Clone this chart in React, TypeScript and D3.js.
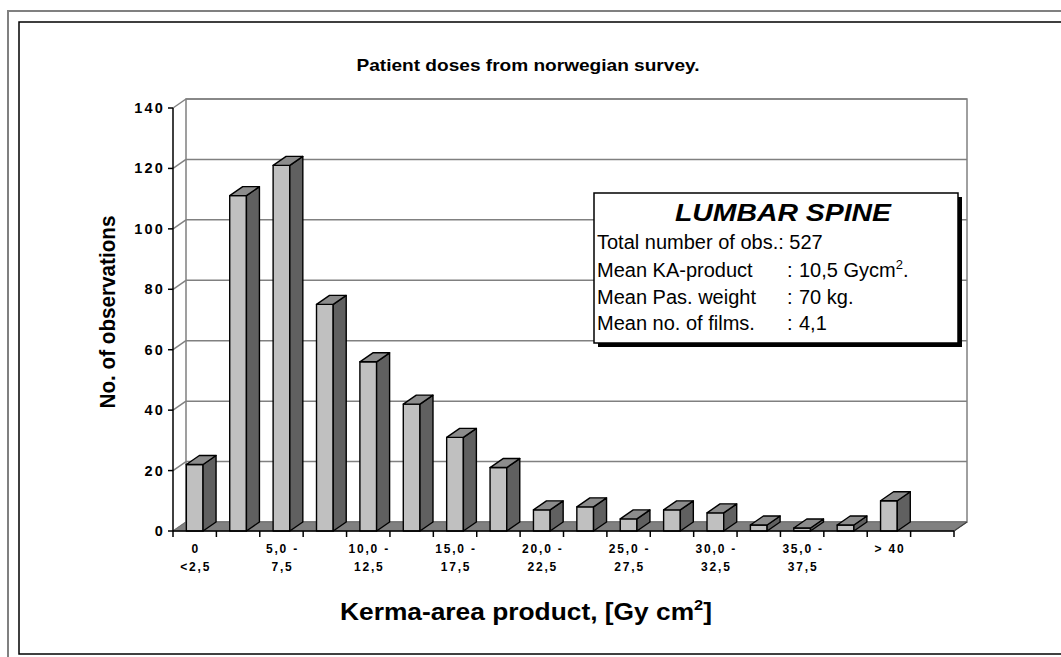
import React from "react";
import * as d3 from "d3";

const categories = ["0-2,5", "2,5-5,0", "5,0-7,5", "7,5-10,0", "10,0-12,5", "12,5-15,0", "15,0-17,5", "17,5-20,0", "20,0-22,5", "22,5-25,0", "25,0-27,5", "27,5-30,0", "30,0-32,5", "32,5-35,0", "35,0-37,5", "37,5-40,0", "> 40", "extra"];
const observations: (number | null)[] = [22, 111, 121, 75, 56, 42, 31, 21, 7, 8, 4, 7, 6, 2, 1, 2, 10, null];
const tickLabelLine1 = ["0", "", "5,0 -", "", "10,0 -", "", "15,0 -", "", "20,0 -", "", "25,0 -", "", "30,0 -", "", "35,0 -", "", "> 40", ""];
const tickLabelLine2 = ["<2,5", "", "7,5", "", "12,5", "", "17,5", "", "22,5", "", "27,5", "", "32,5", "", "37,5", "", "", ""];
const yTicks = [0, 20, 40, 60, 80, 100, 120, 140];

const legendTitle = "LUMBAR SPINE";
const legendLabels = ["Mean KA-product", "Mean Pas. weight", "Mean no. of films."];
const legendValues = ["10,5 Gycm", "70 kg.", "4,1"];

const FONT = "'Liberation Sans', Arial, Helvetica, sans-serif";

export default function App() {
  const DX = 13;
  const DY = -9;
  const x = d3.scaleBand<number>().domain(categories.map((_, i) => i)).range([173, 954]).padding(0);
  const y = d3.scaleLinear().domain([0, 140]).range([531, 108]);
  const step = x.step();
  const bw = step * 0.385;
  const y0 = y(0);

  const bars = observations.map((v, i) => {
    if (v === null) return null;
    const cx = (x(i) as number) + step / 2;
    const x0 = cx - bw / 2;
    const x1 = cx + bw / 2;
    const yt = y(v);
    return (
      <g key={i} stroke="#000" strokeWidth={1.4} strokeLinejoin="round">
        <rect x={x0} y={yt} width={bw} height={y0 - yt} fill="#c0c0c0" />
        <polygon
          points={`${x1},${y0} ${x1 + DX},${y0 + DY} ${x1 + DX},${yt + DY} ${x1},${yt}`}
          fill="#606060"
        />
        <polygon
          points={`${x0},${yt} ${x0 + DX},${yt + DY} ${x1 + DX},${yt + DY} ${x1},${yt}`}
          fill="#8c8c8c"
        />
      </g>
    );
  });

  const boundaries = categories.map((_, i) => x(i) as number).concat([954]);

  return (
    <div style={{ position: "absolute", left: 0, top: 0 }}>
      <svg width={1061} height={657} style={{ display: "block", background: "#fff" }} fontFamily={FONT}>
        {/* frames */}
        <rect x={8} y={11} width={1100} height={700} fill="none" stroke="#808080" strokeWidth={2} />
        <rect x={19} y={22} width={1100} height={632} fill="none" stroke="#000" strokeWidth={1.5} />

        {/* title */}
        <text x={528} y={71} textAnchor="middle" fontWeight="bold" fontSize={17} textLength={343} lengthAdjust="spacingAndGlyphs">
          Patient doses from norwegian survey.
        </text>

        {/* back wall */}
        <rect x={173 + DX} y={y(140) + DY} width={954 - 173} height={y0 - y(140)} fill="#fff" stroke="#808080" strokeWidth={1.5} />
        {yTicks.map((t) => (
          <g key={t} stroke="#808080" strokeWidth={1.5}>
            <line x1={173} y1={y(t)} x2={173 + DX} y2={y(t) + DY} />
            <line x1={173 + DX} y1={y(t) + DY} x2={954 + DX} y2={y(t) + DY} />
          </g>
        ))}

        {/* floor */}
        <polygon
          points={`173,${y0} 954,${y0} ${954 + DX},${y0 + DY} ${173 + DX},${y0 + DY}`}
          fill="#808080"
          stroke="#707070"
          strokeWidth={1}
        />
        <line x1={954} y1={y0} x2={954 + DX} y2={y0 + DY} stroke="#404040" strokeWidth={1.2} />

        {bars}

        {/* y axis */}
        <line x1={173} y1={y(140)} x2={173} y2={y0} stroke="#000" strokeWidth={1.5} />
        {yTicks.map((t) => (
          <g key={t}>
            <line x1={168} y1={y(t)} x2={173} y2={y(t)} stroke="#000" strokeWidth={1.5} />
            <text x={165} y={y(t) + 5} textAnchor="end" fontWeight="bold" fontSize={14.5} letterSpacing={2.2}>
              {t}
            </text>
          </g>
        ))}

        {/* x axis */}
        <line x1={173} y1={y0} x2={954} y2={y0} stroke="#000" strokeWidth={1.5} />
        {boundaries.map((b, i) => (
          <line key={i} x1={b} y1={y0} x2={b} y2={y0 + 6} stroke="#000" strokeWidth={1.5} />
        ))}
        {categories.map((_, i) => {
          const cx = (x(i) as number) + step / 2;
          return (
            <g key={i} fontWeight="bold" fontSize={12} textAnchor="middle" letterSpacing={1.8}>
              {tickLabelLine1[i] && (
                <text x={cx + 1} y={553}>
                  {tickLabelLine1[i]}
                </text>
              )}
              {tickLabelLine2[i] && (
                <text x={cx + 1} y={570.5}>
                  {tickLabelLine2[i]}
                </text>
              )}
            </g>
          );
        })}

        {/* axis titles */}
        <text
          transform="translate(115,312) rotate(-90)"
          textAnchor="middle"
          fontWeight="bold"
          fontSize={21.5}
          textLength={193}
          lengthAdjust="spacingAndGlyphs"
        >
          No. of observations
        </text>
        <text x={340} y={620} fontWeight="bold" fontSize={24} textLength={372} lengthAdjust="spacingAndGlyphs">
          Kerma-area product, [Gy cm<tspan dy={-10} fontSize={15}>2</tspan>
          <tspan dy={10}>]</tspan>
        </text>

        {/* legend box */}
        <rect x={598} y={197} width={364} height={150} fill="#000" />
        <rect x={594} y={193} width={364} height={150} fill="#fff" stroke="#000" strokeWidth={1.5} />
        <text x={675} y={221} fontWeight="bold" fontStyle="italic" fontSize={24.5} textLength={216} lengthAdjust="spacingAndGlyphs">
          {legendTitle}
        </text>
        <text x={597} y={249} fontSize={20}>
          Total number of obs.: 527
        </text>
        {legendLabels.map((l, i) => (
          <g key={l} fontSize={20}>
            <text x={597} y={277 + i * 26.7}>
              {l}
            </text>
            <text x={787} y={277 + i * 26.7}>
              :
            </text>
            <text x={799} y={277 + i * 26.7}>
              {legendValues[i]}
              {i === 0 && (
                <>
                  <tspan dy={-8} fontSize={13}>2</tspan>
                  <tspan dy={8}>.</tspan>
                </>
              )}
            </text>
          </g>
        ))}
      </svg>
    </div>
  );
}
